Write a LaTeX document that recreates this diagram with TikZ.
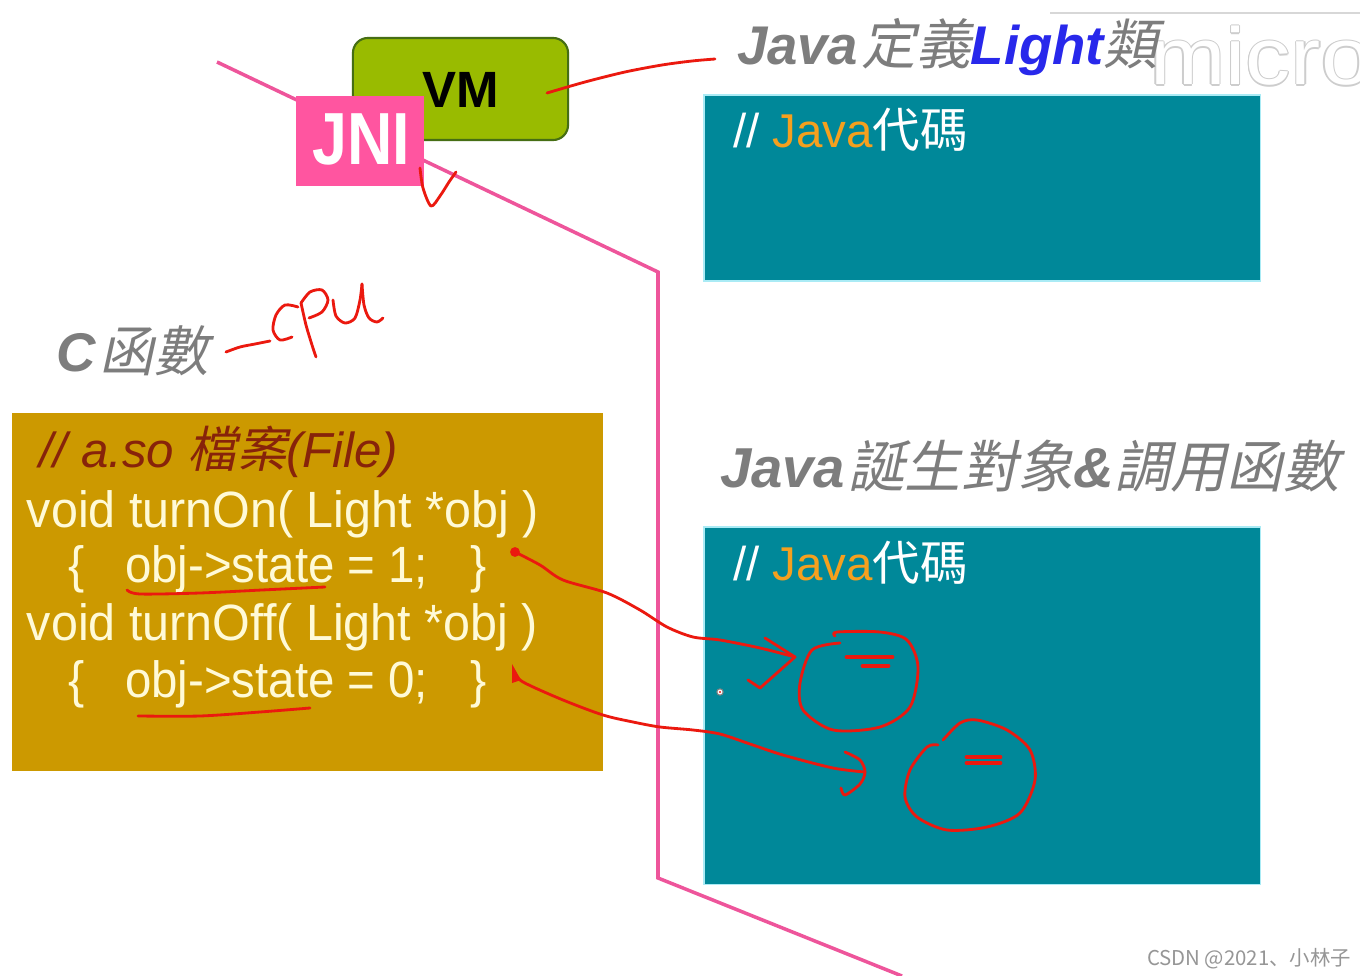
\documentclass[tikz,border=0pt]{standalone}
\usepackage{fontspec}
\setmainfont{Liberation Sans}
\newfontfamily\cjk{Noto Sans CJK TC}
\newfontfamily\cjksl[FakeSlant=0.22]{Noto Sans CJK TC}
\newfontfamily\wmfont{Noto Sans CJK SC}
\definecolor{vmgreen}{RGB}{153,187,0}
\definecolor{vmborder}{RGB}{70,110,20}
\definecolor{jnipink}{RGB}{255,85,160}
\definecolor{pinkline}{RGB}{238,85,155}
\definecolor{tealbox}{RGB}{0,136,153}
\definecolor{tealedge}{RGB}{170,235,245}
\definecolor{goldbox}{RGB}{204,153,0}
\definecolor{codecream}{RGB}{255,250,215}
\definecolor{commentred}{RGB}{135,35,10}
\definecolor{titlegray}{RGB}{125,125,125}
\definecolor{lightblue}{RGB}{40,40,235}
\definecolor{javaorange}{RGB}{245,160,30}
\definecolor{penred}{RGB}{235,25,15}
\definecolor{wmgray}{RGB}{150,150,150}
\definecolor{microgray}{RGB}{205,205,205}
\begin{document}
\begin{tikzpicture}[x=0.01cm,y=-0.01cm,
  pen/.style={draw=penred,line width=0.8pt,line cap=round,line join=round},
  penthick/.style={pen,line width=1.4pt},
  pinkpath/.style={draw=pinkline,line width=1pt},
  lbl/.style={anchor=base west,inner sep=0pt,outer sep=0pt},
  headfont/.style={font=\fontsize{15.5}{18}\selectfont},
  codefont/.style={font=\fontsize{14.5}{17}\selectfont,text=codecream},
  tealfont/.style={font=\fontsize{13.5}{16}\selectfont,text=white},
  panel/.style={inner sep=0pt,outer sep=0pt,anchor=north west},
]
\useasboundingbox (0,0) rectangle (1360,976);
\fill[white] (0,0) rectangle (1360,976);

% watermark "micro" at top right (cut by the right edge, as in the reference)
\begin{scope}
\clip (1040,0) rectangle (1360,100);
\draw[microgray!80!white,line width=0.5pt] (1050,13) -- (1360,13);
\foreach \a [count=\i] in {0,45,...,315} {
  \node[lbl,font=\fontsize{23}{26}\selectfont,text=microgray,shift={(\a:1.2)}] (mico\i) at (1150,85) {\scalebox{1.12}[1]{micro}};
}
\node[lbl,font=\fontsize{23}{26}\selectfont,text=white] (micro) at (1150,85) {\scalebox{1.12}[1]{micro}};
\end{scope}

% pink boundary line
\coordinate (pA) at (217,62);
\coordinate (pB) at (658,272);
\coordinate (pC) at (658,878);
\coordinate (pD) at (902,976);
\draw[pinkpath] (pA) -- (pB) -- (pC) -- (pD);

% VM and JNI
\node[draw=vmborder,fill=vmgreen,rounded corners=0.15cm,minimum width=2.15cm,minimum height=1.02cm,inner sep=0pt,line width=0.6pt] (vm) at (460.5,89) {};
\node[anchor=base,inner sep=0pt,font=\fontsize{14.5}{17}\selectfont\bfseries] (vmtxt) at (461,108) {VM};
\node[fill=jnipink,minimum width=1.28cm,minimum height=0.9cm,inner sep=0pt] (jni) at (360,141) {};
\node[anchor=base,inner sep=0pt,text=white,font=\fontsize{21}{24}\selectfont\bfseries] (jnitxt) at (361,165) {\scalebox{0.85}[1]{JNI}};

% titles
\node[lbl,headfont] (title1) at (737,65) {\color{titlegray}\bfseries\itshape Java\hspace{1pt}{\mdseries\upshape\cjksl 定義}{\color{lightblue}Light}{\mdseries\upshape\cjksl 類}};
\node[lbl,headfont] (cfunc) at (57,372) {\color{titlegray}\bfseries\itshape C\hspace{1pt}{\mdseries\upshape\cjksl 函數}};
\node[lbl,font=\fontsize{16}{19}\selectfont] (title2) at (720,487) {\color{titlegray}\bfseries\itshape Java\hspace{1pt}{\mdseries\upshape\cjksl 誕生對象}\&{\mdseries\upshape\cjksl 調用函數}};

% teal panels
\node[panel,fill=tealbox,draw=tealedge,line width=0.4pt,minimum width=5.56cm,minimum height=1.86cm] (javacls) at (704,95) {};
\node[lbl,tealfont] (code1) at (733,148) {// {\color{javaorange}Java}{\cjk 代碼}};
\node[panel,fill=tealbox,draw=tealedge,line width=0.4pt,minimum width=5.56cm,minimum height=3.57cm] (javaobj) at (704,527) {};
\node[lbl,tealfont] (code2) at (733,580) {// {\color{javaorange}Java}{\cjk 代碼}};

% C code box
\node[panel,fill=goldbox,minimum width=5.91cm,minimum height=3.58cm] (sofile) at (12,413) {};
\node[lbl,font=\fontsize{14}{17}\selectfont\itshape,text=commentred] (cmt) at (40,468) {// a.so {\upshape\cjksl 檔案}(File)};
\node[lbl,codefont] (l1) at (27,527) {\scalebox{0.95}[1]{void turnOn( Light *obj )}};
\node[lbl,codefont] (l2a) at (68,582) {\scalebox{0.95}[1]{\{}};
\node[lbl,codefont] (l2b) at (125,582) {\scalebox{0.93}[1]{obj->state = 1;}};
\node[lbl,codefont] (l2c) at (470,582) {\scalebox{0.95}[1]{\}}};
\node[lbl,codefont] (l3) at (27,640) {\scalebox{0.95}[1]{void turnOff( Light *obj )}};
\node[lbl,codefont] (l4a) at (68,697) {\scalebox{0.95}[1]{\{}};
\node[lbl,codefont] (l4b) at (125,697) {\scalebox{0.93}[1]{obj->state = 0;}};
\node[lbl,codefont] (l4c) at (470,697) {\scalebox{0.95}[1]{\}}};

% handwritten red annotations
\coordinate (vmpen) at (547,93);
\coordinate (titlepen) at (715,59);
\draw[pen] plot[smooth] coordinates {(vmpen) (585,82) (625,72) (662,65) (692,61) (titlepen)};
\draw[pen] plot[smooth,tension=0.5] coordinates {(420,168) (423,188) (431,206) (440,196) (449,182) (456,172)};

% -cpu
\draw[pen] plot[smooth] coordinates {(226,352) (240,347) (255,344) (270,341)};
\draw[pen] plot[smooth] coordinates {(298,307) (285,305) (276,315) (273,330) (280,340) (292,337)};
\draw[pen] plot[smooth] coordinates {(301,303) (306,325) (312,345) (316,357)};
\draw[pen] plot[smooth] coordinates {(301,303) (310,292) (322,290) (328,300) (322,312) (309,318)};
\draw[pen] plot[smooth] coordinates {(333,300) (336,316) (345,323) (355,318) (360,300) (362,284)};
\draw[pen] plot[smooth] coordinates {(362,284) (364,305) (369,318) (377,322) (383,318)};

% underlines
\draw[pen] plot[smooth] coordinates {(127,590) (140,594) (200,593) (262,590) (325,587)};
\draw[pen] plot[smooth] coordinates {(138,716) (200,716) (260,712) (310,708)};

% arrow 1: turnOn -> object 1
\coordinate (on1) at (515,552);
\coordinate (obj1) at (795,657);
\fill[penred] (on1) circle (1.4pt);
\draw[pen] plot[smooth] coordinates {(on1) (540,565) (563,580) (607,593) (640,610) (667,627) (693,637) (720,640) (760,648) (obj1)};
\draw[pen] (765,638) -- (obj1) -- (760,688) -- (748,680);

% arrow 2: turnOff -> object 2
\coordinate (off1) at (514,672);
\coordinate (obj2) at (865,772);
\fill[penred] (512,664) -- (512,683) -- (521,680) -- cycle;
\draw[pen] plot[smooth] coordinates {(off1) (523,682) (563,700) (603,715) (633,722) (660,727) (693,730) (720,734) (750,744) (783,755) (833,768) (obj2)};
\draw[pen] plot[smooth] coordinates {(845,752) (860,760) (obj2) (860,784) (845,795) (841,788)};

% object circles
\draw[pen] plot[smooth] coordinates {(840,643) (812,650) (800,683) (803,710) (833,730) (880,727) (910,707) (918,667) (907,640) (880,632) (837,632) (835,636)};
\draw[penthick] (847,657) -- (892,657);
\draw[penthick] (863,666) -- (888,666);
\draw[pen] plot[smooth] coordinates {(938,745) (927,747) (910,770) (905,797) (917,817) (947,830) (987,827) (1020,813) (1035,780) (1030,750) (1007,730) (977,720) (960,723) (943,740)};
\draw[penthick] (967,757) -- (1000,757);
\draw[penthick] (967,763) -- (1000,763);

% cursor dot
\draw[black!50,fill=white,line width=0.3pt] (720,692) circle (0.9pt);
\fill[penred] (720,692) circle (0.35pt);

% page watermark
\node[lbl,font={\wmfont\fontsize{5.8}{7}\selectfont},text=wmgray] (csdn) at (1147,965) {CSDN @2021、小林子};
\end{tikzpicture}
\end{document}
